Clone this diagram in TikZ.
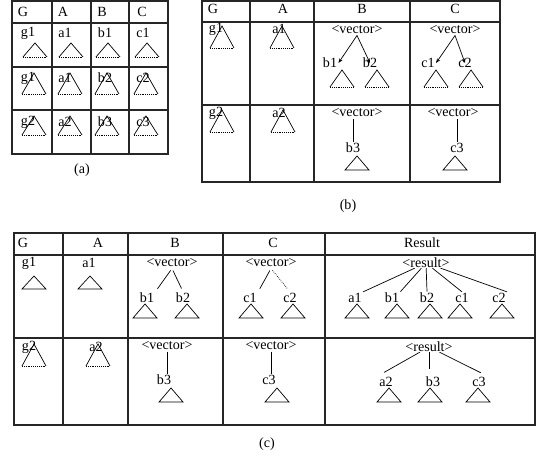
\documentclass[tikz,border=0pt]{standalone}
\usepackage{fontspec}
\setmainfont{Liberation Serif}
\usetikzlibrary{arrows.meta}

% subtree with a dotted base: apex x, apex y, base y
\newcommand{\subt}[3]{\draw[edge] (#1-12,#3)--(#1,#2)--(#1+12,#3); \draw[edge,densely dotted] (#1-12,#3)--(#1+12,#3);}
% closed subtree
\newcommand{\fullt}[3]{\draw[edge] (#1-12,#3)--(#1,#2)--(#1+12,#3)--cycle;}

\begin{document}
\begin{tikzpicture}[x=0.03cm,y=-0.03cm,
		lbl/.style={font=\fontsize{12}{14}\selectfont,inner sep=1pt},
		grid/.style={line width=1.1pt,black!85},
		edge/.style={line width=0.6pt}]
	\useasboundingbox (0,0) rectangle (536,459);
	
	% table (a)
	\draw[grid] (12,1) rectangle (168,154);
	\foreach \x in {52,91,129} \draw[grid] (\x,1)--(\x,154);
	\foreach \y in {23,67,110} \draw[grid] (12,\y)--(168,\y);
	\foreach \n/\x in {G/23,A/63,B/102,C/142} \node[lbl] (a\n) at (\x,12) {\n};
	\foreach \x/\t/\p/\q/\r in {28/35/g1/g1/g2, 65/71/a1/a1/a2, 105/108/b1/b2/b3, 143/147/c1/c2/c3}{
		\node[lbl] (a1\p) at (\x,33) {\p};
		\node[lbl] (a2\q) at (\x,78) {\q};
		\node[lbl] (a3\r) at (\x,122) {\r};
		\subt{\t}{43}{57}
		\subt{\t-1}{73}{94}
		\subt{\t-1}{116}{135}
	}
	\node[lbl] (capa) at (82,170) {(a)};
	
	% table (b)
	\draw[grid] (202,1) rectangle (500,182);
	\foreach \x in {250,314,410} \draw[grid] (\x,1)--(\x,182);
	\foreach \y in {22,105} \draw[grid] (202,\y)--(500,\y);
	\foreach \n/\x in {G/213,A/283,B/362,C/455} \node[lbl] (b\n) at (\x,9) {\n};
	\node[lbl] (bg1) at (216,29) {g1};  \subt{222}{26}{48}
	\node[lbl] (ba1) at (279,29) {a1};  \subt{282}{26}{48}
	\node[lbl] (bvb) at (357,30) {<vector>};
	\node[lbl] (bb1) at (330,63) {b1};  \subt{342}{70}{87}
	\node[lbl] (bb2) at (370,63) {b2};  \subt{377}{70}{87}
	\node[lbl] (bvc) at (455,30) {<vector>};
	\node[lbl] (bc1) at (428,63) {c1};  \subt{436}{70}{87}
	\node[lbl] (bc2) at (465,63) {c2};  \subt{471}{70}{87}
	\draw[edge,-{Stealth[length=4pt,width=3pt]}] (bvb.south) -- (bb1.east);
	\draw[edge,-{Stealth[length=4pt,width=3pt]}] (bvb.south) -- (bb2.center);
	\draw[edge,-{Stealth[length=4pt,width=3pt]}] (bvc.south) -- (bc1.east);
	\draw[edge,-{Stealth[length=4pt,width=3pt]}] (bvc.south) -- (bc2.center);
	
	\node[lbl] (bg2) at (216,113) {g2};  \subt{222}{110}{132}
	\node[lbl] (ba2) at (279,113) {a2};  \subt{283}{110}{132}
	\node[lbl] (bvb3) at (357,113) {<vector>};
	\node[lbl] (bb3) at (353,148) {b3};  \fullt{357}{156}{170}
	\node[lbl] (bvc3) at (453,113) {<vector>};
	\node[lbl] (bc3) at (457,148) {c3};  \fullt{455}{156}{170}
	\draw[edge] (bb3.north) -- (bb3 |- bvb3.south);
	\draw[edge] (bc3.north) -- (bc3 |- bvc3.south);
	\node[lbl] (capb) at (348,206) {(b)};
	
	% table (c)
	\draw[grid] (14,233) rectangle (535,425);
	\foreach \x in {63,128,223,325} \draw[grid] (\x,233)--(\x,425);
	\foreach \y in {255,338} \draw[grid] (14,\y)--(535,\y);
	\foreach \n/\x in {G/23,A/98,B/175,C/273,Result/422} \node[lbl] (c\n) at (\x,243) {\n};
	
	\node[lbl] (cg1) at (29,263) {g1};  \fullt{34}{276}{289}
	\node[lbl] (ca1) at (89,263) {a1};  \fullt{90}{276}{289}
	\node[lbl] (cvb) at (172,263) {<vector>};
	\node[lbl] (cb1) at (147,298) {b1};  \fullt{145}{304}{318}
	\node[lbl] (cb2) at (183,298) {b2};  \fullt{187}{304}{318}
	\node[lbl] (cvc) at (271,263) {<vector>};
	\node[lbl] (cc1) at (250,298) {c1};  \fullt{251}{304}{318}
	\node[lbl] (cc2) at (290,298) {c2};  \fullt{293}{304}{318}
	\draw[edge,shorten <=2pt,shorten >=3pt] (cvb.south) -- (cb1.north east);
	\draw[edge,shorten <=2pt,shorten >=3pt] (cvb.south) -- (cb2.north);
	\draw[edge,shorten <=2pt,shorten >=3pt] (cvc.south) -- (cc1.north east);
	\draw[edge,densely dotted,shorten <=2pt,shorten >=3pt] (cvc.south) -- (cc2.north);
	
	\node[lbl,inner sep=0pt] (cvr) at (426,263) {<result>};
	\foreach \n/\x/\t in {a1/355/357, b1/392/397, b2/427/430, c1/462/460, c2/499/502}{
		\node[lbl] (cr\n) at (\x,298) {\n};
		\fullt{\t}{304}{318}
	}
	\draw[edge] (cvr) -- (cra1.north east);
	\draw[edge] (cvr) -- (crb1.north east);
	\draw[edge] (cvr) -- (crb2.north);
	\draw[edge] (cvr) -- (crc1.north);
	\draw[edge] (cvr) -- (crc2.north east);
	
	\node[lbl] (cg2) at (29,347) {g2};  \subt{34}{344}{366}
	\node[lbl] (ca2) at (96,347) {a2};  \subt{98}{344}{366}
	\node[lbl] (cvb3) at (167,346) {<vector>};
	\node[lbl] (cb3) at (164,380) {b3};  \fullt{171}{388}{402}
	\node[lbl] (cvc3) at (271,346) {<vector>};
	\node[lbl] (cc3) at (269,380) {c3};  \fullt{277}{388}{402}
	\draw[edge] (cvb3.south) -- (cvb3.south |- cb3.north);
	\draw[edge] (cvc3.south) -- (cvc3.south |- cc3.north);
	
	\node[lbl,inner sep=0pt] (cvr2) at (429,347) {<result>};
	\foreach \n/\x/\t in {a2/386/389, b3/433/430, c3/479/478}{
		\node[lbl] (cr\n) at (\x,382) {\n};
		\fullt{\t}{388}{402}
	}
	\draw[edge,shorten >=6pt] (cvr2) -- (cra2.north west);
	\draw[edge,shorten >=6pt] (cvr2.south) -- (cvr2.south |- crb3.north);
	\draw[edge,shorten >=6pt] (cvr2) -- (crc3.north east);
	\node[lbl] (capc) at (267,444) {(c)};
\end{tikzpicture}
\end{document}
